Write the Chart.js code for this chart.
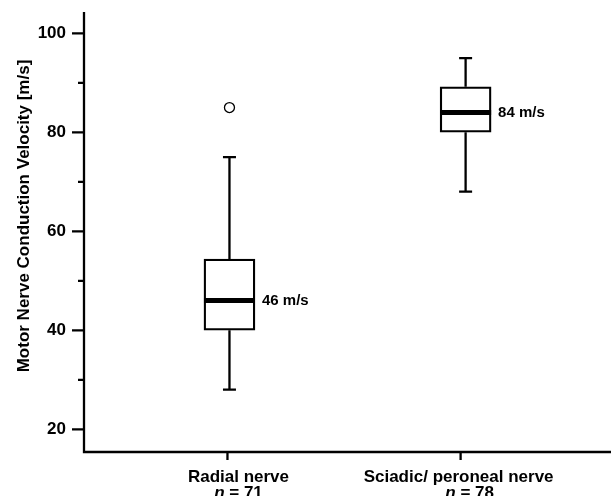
<!DOCTYPE html>
<html>
<head>
<meta charset="utf-8">
<script src="https://cdn.jsdelivr.net/npm/chart.js@4.4.1/dist/chart.umd.min.js"></script>
<style>
  html, body { margin: 0; padding: 0; background: #fff; }
  #wrap { width: 611px; height: 496px; position: relative; }
</style>
</head>
<body>
<div id="wrap"><canvas id="myChart"></canvas></div>
<script>
// data
const categories = ['Radial nerve', 'Sciadic/ peroneal nerve'];
const sampleSizes = ['71', '78'];
const whiskerLow = [28, 68];
const q1 = [40, 80];
const medians = [46, 84];
const q3 = [54.4, 89.2];
const whiskerHigh = [75, 95];
const outliers = [{ x: 0, y: 85 }];
const yTicks = [20, 30, 40, 50, 60, 70, 80, 90, 100];
const yTitle = 'Motor Nerve Conduction Velocity [m/s]';

const FONT = '"Liberation Sans", Arial, sans-serif';

// remove the label padding chart.js adds so the plot area sits where we want it
const noPadding = (scale) => {
  scale.paddingTop = 0;
  scale.paddingBottom = 0;
  scale.paddingLeft = 0;
  scale.paddingRight = 0;
};

// whiskers, caps, medians and their labels
const boxPlugin = {
  id: 'boxWhiskers',
  afterDatasetsDraw(chart) {
    const { ctx, scales: { y } } = chart;
    const meta = chart.getDatasetMeta(0);
    ctx.save();
    ctx.strokeStyle = '#000';
    ctx.fillStyle = '#000';
    categories.forEach((c, i) => {
      const bar = meta.data[i];
      const cx = bar.x;
      const half = bar.width / 2;
      const cap = 6.5;

      ctx.lineWidth = 2.3;
      ctx.beginPath();
      ctx.moveTo(cx, y.getPixelForValue(q3[i]));
      ctx.lineTo(cx, y.getPixelForValue(whiskerHigh[i]));
      ctx.moveTo(cx, y.getPixelForValue(q1[i]));
      ctx.lineTo(cx, y.getPixelForValue(whiskerLow[i]));
      ctx.moveTo(cx - cap, y.getPixelForValue(whiskerHigh[i]));
      ctx.lineTo(cx + cap, y.getPixelForValue(whiskerHigh[i]));
      ctx.moveTo(cx - cap, y.getPixelForValue(whiskerLow[i]));
      ctx.lineTo(cx + cap, y.getPixelForValue(whiskerLow[i]));
      ctx.stroke();

      const my = y.getPixelForValue(medians[i]);
      ctx.lineWidth = 5;
      ctx.beginPath();
      ctx.moveTo(cx - half, my);
      ctx.lineTo(cx + half, my);
      ctx.stroke();

      ctx.font = 'bold 15px ' + FONT;
      ctx.textAlign = 'left';
      ctx.textBaseline = 'middle';
      ctx.fillText(medians[i] + ' m/s', cx + half + 7, my);
    });
    ctx.restore();
  },
  afterDraw(chart) {
    const { ctx, chartArea: area, scales: { x, y } } = chart;
    ctx.save();
    ctx.strokeStyle = '#000';
    ctx.fillStyle = '#000';
    ctx.lineWidth = 2.3;

    // axis lines, the x axis runs to the edge of the picture
    ctx.beginPath();
    ctx.moveTo(area.left, area.top);
    ctx.lineTo(area.left, area.bottom);
    ctx.lineTo(chart.width, area.bottom);
    ctx.stroke();

    // y tick marks, long on labelled values
    ctx.beginPath();
    yTicks.forEach(v => {
      const py = y.getPixelForValue(v);
      const len = v % 20 === 0 ? 12 : 6;
      ctx.moveTo(area.left - len, py);
      ctx.lineTo(area.left, py);
    });
    ctx.stroke();

    // category ticks and two-line labels
    const tickShift = [-2, -5];
    ctx.beginPath();
    categories.forEach((c, i) => {
      const px = x.getPixelForValue(i) + tickShift[i];
      ctx.moveTo(px, area.bottom);
      ctx.lineTo(px, area.bottom + 8);
    });
    ctx.stroke();

    const labelShift = [9, -7];
    const nShift = [9, 4];
    ctx.textBaseline = 'alphabetic';
    categories.forEach((c, i) => {
      const px = x.getPixelForValue(i);
      ctx.font = 'bold 17px ' + FONT;
      ctx.textAlign = 'center';
      ctx.fillText(c, px + labelShift[i], area.bottom + 30);

      // "n = 71" with italic n
      const nPart = 'n';
      const rest = ' = ' + sampleSizes[i];
      ctx.font = 'bold italic 17px ' + FONT;
      const w1 = ctx.measureText(nPart).width;
      ctx.font = 'bold 17px ' + FONT;
      const w2 = ctx.measureText(rest).width;
      const startX = px + nShift[i] - (w1 + w2) / 2;
      ctx.textAlign = 'left';
      ctx.font = 'bold italic 17px ' + FONT;
      ctx.fillText(nPart, startX, area.bottom + 46);
      ctx.font = 'bold 17px ' + FONT;
      ctx.fillText(rest, startX + w1, area.bottom + 46);
    });

    // rotated y title
    ctx.translate(24, 216);
    ctx.rotate(-Math.PI / 2);
    ctx.font = 'bold 17px ' + FONT;
    ctx.textAlign = 'center';
    ctx.textBaseline = 'middle';
    ctx.fillText(yTitle, 0, 0);
    ctx.restore();
  }
};

const ctx = document.getElementById('myChart');
new Chart(ctx, {
  type: 'bar',
  data: {
    datasets: [{
      type: 'bar',
      data: categories.map((c, i) => ({ x: i, y: [q1[i], q3[i]] })),
      backgroundColor: '#fff',
      borderColor: '#000',
      borderWidth: 2.3,
      borderSkipped: false,
      barThickness: 51
    }, {
      type: 'scatter',
      data: outliers,
      pointStyle: 'circle',
      pointRadius: 5,
      pointBackgroundColor: '#fff',
      pointBorderColor: '#000',
      pointBorderWidth: 1.3
    }]
  },
  options: {
    responsive: true,
    maintainAspectRatio: false,
    animation: false,
    layout: { padding: { top: 12, left: 0, right: 0, bottom: 0 } },
    plugins: {
      legend: { display: false },
      tooltip: { enabled: false }
    },
    scales: {
      x: {
        type: 'linear',
        offset: false,
        min: -0.616,
        max: 1.589,
        grid: { display: false },
        border: { display: false },
        ticks: { display: false },
        afterFit: (scale) => { scale.height = 44; noPadding(scale); }
      },
      y: {
        type: 'linear',
        min: 15.41,
        max: 104.3,
        grid: { display: false, drawTicks: false },
        border: { display: false },
        afterBuildTicks: (scale) => { scale.ticks = yTicks.map(v => ({ value: v })); },
        afterFit: (scale) => { scale.width = 84; noPadding(scale); },
        ticks: {
          padding: 18,
          color: '#000',
          font: { family: FONT, size: 17, weight: 'bold' },
          callback: (v) => (v % 20 === 0 ? v : '')
        }
      }
    }
  },
  plugins: [boxPlugin]
});
</script>
</body>
</html>
